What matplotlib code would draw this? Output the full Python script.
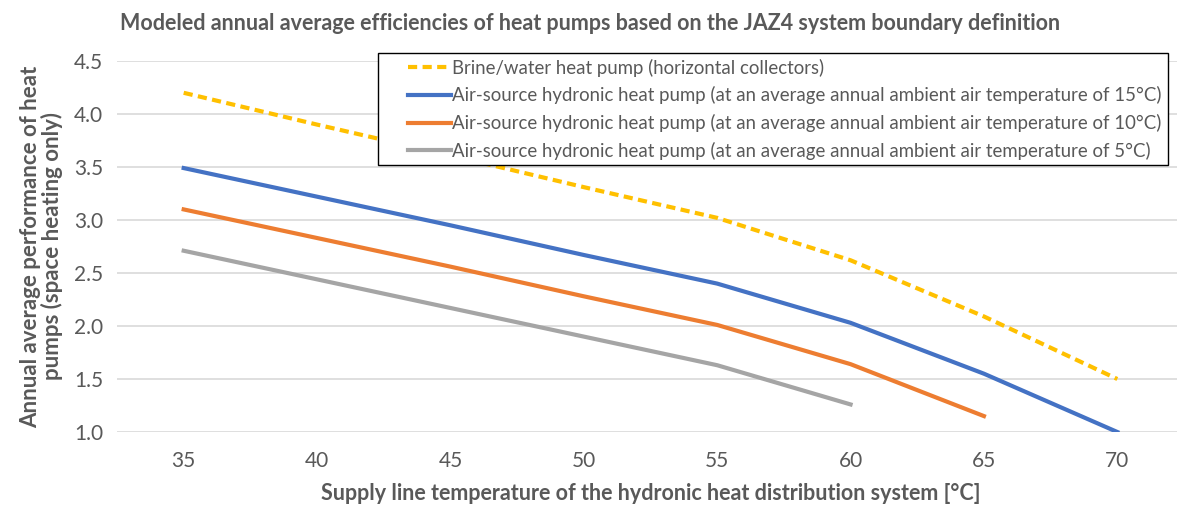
import matplotlib.pyplot as plt
from matplotlib.legend_handler import HandlerLine2D

plt.rcParams['font.family'] = ['Lato', 'DejaVu Sans']

# supply line temperature categories [°C]
temps = [35, 40, 45, 50, 55, 60, 65, 70]

# annual average performance values
brine = [4.20, 3.90, 3.61, 3.31, 3.02, 2.62, 2.09, 1.50]
air_15 = [3.49, 3.22, 2.95, 2.67, 2.40, 2.03, 1.55, 1.00]
air_10 = [3.10, 2.83, 2.56, 2.28, 2.01, 1.64, 1.15]
air_5 = [2.71, 2.44, 2.17, 1.90, 1.63, 1.26]

labels = [
    "Brine/water heat pump (horizontal collectors)",
    "Air-source hydronic heat pump (at an average annual ambient air temperature of 15°C)",
    "Air-source hydronic heat pump (at an average annual ambient air temperature of 10°C)",
    "Air-source hydronic heat pump (at an average annual ambient air temperature of 5°C)",
]
y_ticks = [1.0, 1.5, 2.0, 2.5, 3.0, 3.5, 4.0, 4.5]

text_col = "#595959"
W, H = 1177, 508
fig = plt.figure(figsize=(W / 100, H / 100), dpi=100)
ax = fig.add_axes([117 / W, 1 - 432 / H, (1184 - 117) / W, (432 - 61) / H])

ax.plot(temps, brine, color="#FFC000", lw=3, ls=(0, (2.2, 1.3)), label=labels[0])
ax.plot(temps, air_15, color="#4472C4", lw=3, label=labels[1])
ax.plot(temps[:len(air_10)], air_10, color="#ED7D31", lw=3, label=labels[2])
ax.plot(temps[:len(air_5)], air_5, color="#A5A5A5", lw=3, label=labels[3])

ax.set_xlim(32.5, 72.5)
ax.set_ylim(1.0, 4.5)
ax.set_xticks(temps)
ax.set_yticks(y_ticks)
ax.set_yticklabels([f"{v:.1f}" for v in y_ticks])
ax.tick_params(length=0, labelsize=15, colors=text_col)
ax.tick_params(axis="y", pad=10)
ax.tick_params(axis="x", pad=14)
ax.grid(axis="y", color="#D9D9D9", lw=1.2)
ax.set_axisbelow(True)
for s in ax.spines.values():
    s.set_visible(False)

ax.set_xlabel("Supply line temperature of the hydronic heat distribution system [°C]",
              fontsize=15.5, fontweight="bold", color=text_col, labelpad=8)
ax.set_ylabel("Annual average performance of heat\npumps (space heating only)",
              fontsize=16, fontweight="bold", color=text_col, labelpad=8,
              linespacing=1.0)
fig.text(120 / W, 1 - 24 / H,
         "Modeled annual average efficiencies of heat pumps based on the JAZ4 system boundary definition",
         fontsize=15.5, fontweight="bold", color=text_col, va="center", ha="left")

# legend handles start a bit in from the frame, like the original
leg = ax.legend(loc="upper left", bbox_to_anchor=(378 / W, 1 - 53 / H),
                bbox_transform=fig.transFigure, fontsize=13.4, frameon=True,
                fancybox=False, edgecolor="black", framealpha=1,
                handlelength=3.6, handletextpad=0.1, labelspacing=0.52,
                borderpad=0.3, borderaxespad=0, labelcolor=text_col,
                handler_map={plt.Line2D: HandlerLine2D(xpad=1.3)})
leg.get_frame().set_linewidth(1.0)

fig.savefig("out.png", dpi=100)
